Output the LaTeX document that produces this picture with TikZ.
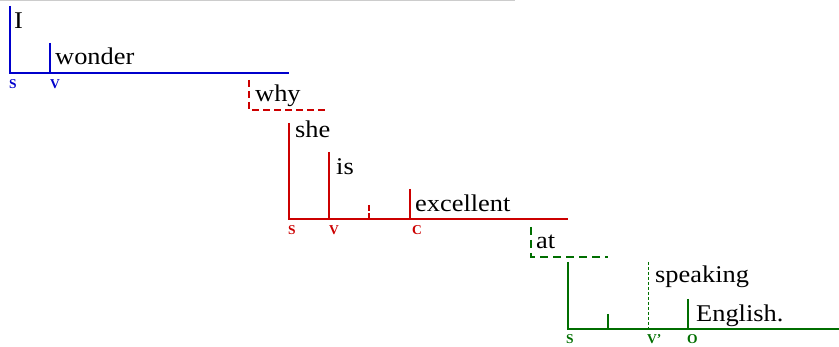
\documentclass[tikz,border=0pt]{standalone}
\usepackage{fontspec}
\setmainfont{Liberation Serif}
\newfontfamily\wordfont[FakeStretch=1.1]{Liberation Serif}
\definecolor{dblue}{RGB}{0,0,204}
\definecolor{dred}{RGB}{204,0,0}
\definecolor{dgreen}{RGB}{0,110,0}
\tikzset{
  word/.style={anchor=base west, inner sep=0pt, font=\wordfont\fontsize{24}{24}\selectfont},
  lbl/.style={anchor=base west, inner sep=0pt, font=\fontsize{13.5}{13.5}\selectfont\bfseries},
  baseln/.style={line width=2pt},
  subln/.style={line width=1.3pt},
  dashln/.style={line width=1.8pt, dash pattern=on 7pt off 4pt},
  thindash/.style={line width=1pt, dash pattern=on 3pt off 2pt},
}
\begin{document}
\begin{tikzpicture}[x=1pt,y=-1pt]
\useasboundingbox (0,0) rectangle (839,347);
\coordinate (g0) at (0,0.5);
\coordinate (g1) at (515,0.5);
\draw[line width=1pt, black!20] (g0) -- (g1);

% blue: I wonder
\begin{scope}[dblue]
\coordinate (b0) at (10,6);
\coordinate (b1) at (10,73);
\coordinate (b2) at (289,73);
\coordinate (bv0) at (50,43);
\coordinate (bv1) at (50,73);
\draw[baseln] (b0) -- (b1) -- (b2);
\draw[subln] (bv0) -- (bv1);
\node[lbl, text=dblue] (bs) at (9,89) {S};
\node[lbl, text=dblue] (bv) at (50,89) {V};
\end{scope}
\node[word] (tI) at (14,29) {I};
\node[word] (twonder) at (55,65) {wonder};

% red: why she is excellent
\begin{scope}[dred]
\coordinate (w0) at (249,80);
\coordinate (w1) at (249,110);
\coordinate (w2) at (327,110);
\draw[dashln] (w0) -- (w1) -- (w2);
\coordinate (r0) at (289,123);
\coordinate (r1) at (289,219);
\coordinate (r2) at (568,219);
\coordinate (rv0) at (329,152);
\coordinate (rv1) at (329,219);
\coordinate (rt0) at (369,205);
\coordinate (rt1) at (369,219);
\coordinate (rc0) at (410,189);
\coordinate (rc1) at (410,219);
\draw[baseln] (r0) -- (r1) -- (r2);
\draw[subln] (rv0) -- (rv1);
\draw[subln, dash pattern=on 6pt off 2pt] (rt0) -- (rt1);
\draw[subln] (rc0) -- (rc1);
\node[lbl, text=dred] (rs) at (288,235) {S};
\node[lbl, text=dred] (rv) at (329,235) {V};
\node[lbl, text=dred] (rc) at (412,235) {C};
\end{scope}
\node[word] (twhy) at (255,102) {why};
\node[word] (tshe) at (295,138) {she};
\node[word] (tis) at (336,175) {is};
\node[word] (texc) at (415,212) {excellent};

% green: at speaking English
\begin{scope}[dgreen]
\coordinate (a0) at (531,227);
\coordinate (a1) at (531,257);
\coordinate (a2) at (608,257);
\draw[dashln, dash pattern=on 8pt off 5pt] (a0) -- (a1) -- (a2);
\coordinate (G0) at (568,262);
\coordinate (G1) at (568,329);
\coordinate (G2) at (839,329);
\coordinate (gt0) at (608,314);
\coordinate (gt1) at (608,329);
\coordinate (gs0) at (648,262);
\coordinate (gs1) at (648,329);
\coordinate (go0) at (688,299);
\coordinate (go1) at (688,329);
\draw[baseln] (G0) -- (G1) -- (G2);
\draw[subln] (gt0) -- (gt1);
\draw[thindash] (gs0) -- (gs1);
\draw[subln] (go0) -- (go1);
\node[lbl, text=dgreen] (gs) at (566,344) {S};
\node[lbl, text=dgreen] (gv) at (647,344) {V'};
\node[lbl, text=dgreen] (go) at (687,344) {O};
\end{scope}
\node[word] (tat) at (536,249) {at};
\node[word] (tspeak) at (655,283) {speaking};
\node[word] (teng) at (696,322) {English.};
\end{tikzpicture}
\end{document}
